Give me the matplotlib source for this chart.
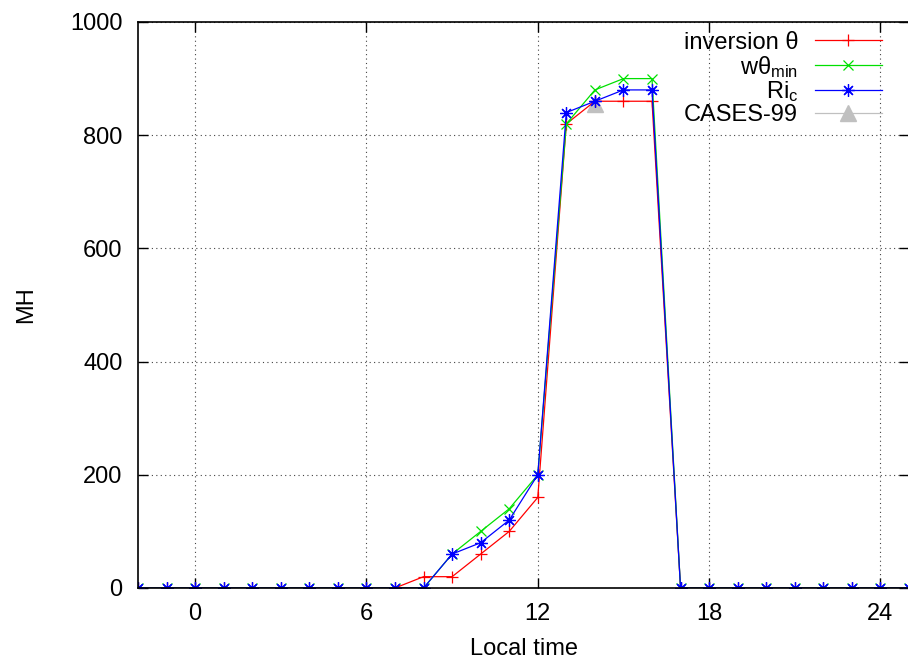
import numpy as np
import matplotlib
matplotlib.use('Agg')
import matplotlib.pyplot as plt

plt.rcParams['font.family'] = ['Liberation Sans', 'DejaVu Sans']
plt.rcParams['mathtext.fontset'] = 'custom'
plt.rcParams['mathtext.rm'] = 'Liberation Sans'
plt.rcParams['mathtext.it'] = 'Liberation Sans:italic'

# hours of local time
hours = list(range(-2, 26))

# mixing height from each method
inv_theta = [0]*9 + [0, 20, 20, 60, 100, 160, 820, 860, 860, 860, 0] + [0]*8
w_theta = [0]*9 + [0, 0, 60, 100, 140, 200, 820, 880, 900, 900, 0] + [0]*8
ri_c = [0]*9 + [0, 0, 60, 80, 120, 200, 840, 860, 880, 880, 0] + [0]*8

# observation
cases_x = [14]
cases_y = [855]

xticks = [0, 6, 12, 18, 24]
yticks = [0, 200, 400, 600, 800, 1000]

fig = plt.figure(figsize=(9.08, 6.62), dpi=100)
ax = fig.add_axes([138/908, 74/662, 771/908, 566/662])

ax.plot(hours, inv_theta, color='red', lw=0.9, marker='+', ms=9, mew=0.9, label='inversion θ')
ax.plot(hours, w_theta, color='#00e000', lw=0.9, marker='x', ms=7, mew=0.9, label='wθ$_{\\mathrm{min}}$')
ax.plot(hours, ri_c, color='blue', lw=0.9, marker=(8, 2, 0), ms=9, mew=0.9, label=r'Ri$_{\mathrm{c}}$')
ax.plot(cases_x, cases_y, color='#c0c0c0', lw=0.9, marker='^', ms=11, ls='-', label='CASES-99', zorder=1.9)

ax.set_xlim(-2, 25)
ax.set_ylim(0, 1000)
ax.set_xticks(xticks)
ax.set_yticks(yticks)
ax.tick_params(direction='in', length=7, width=1, top=True, right=True, labelsize=17, pad=11)
ax.grid(True, color='#444444', ls=(0, (1, 3)), lw=0.8)
for s in ax.spines.values():
    s.set_linewidth(1.2)

ax.set_xlabel('Local time', fontsize=17, labelpad=9)
ax.set_ylabel('MH', fontsize=17, labelpad=24)

leg = ax.legend(loc='upper right', bbox_to_anchor=(0.965, 0.983), frameon=False, markerfirst=False,
                fontsize=17, handlelength=2.85, labelspacing=0.0, handletextpad=0.7,
                borderpad=0, borderaxespad=0)
for t in leg.get_texts():
    t.set_ha('right')

fig.savefig('out.png', dpi=100)
